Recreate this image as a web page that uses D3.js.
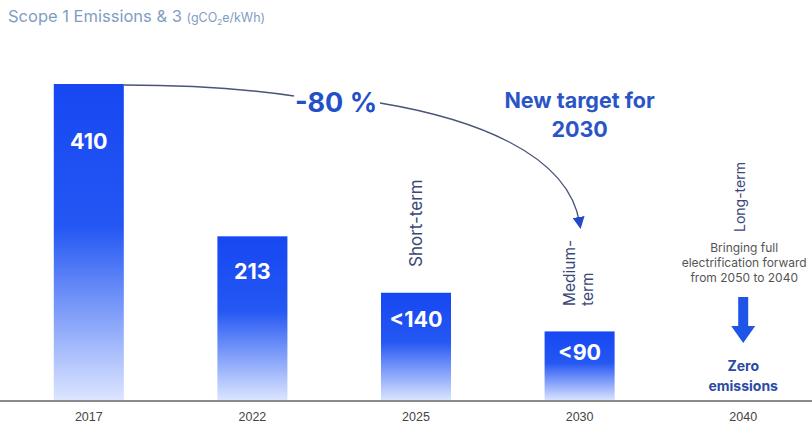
<!DOCTYPE html>
<html>
<head>
<meta charset="utf-8">
<script src="https://cdn.jsdelivr.net/npm/d3@7/dist/d3.min.js"></script>
<style>
  html, body { margin: 0; padding: 0; background: #fff; }
  svg { display: block; font-family: Inter, "Liberation Sans", Arial, sans-serif; }
</style>
</head>
<body>
<svg id="chart" width="812" height="426"></svg>
<script>
// Emission intensity, scope 1 & 3 (gCO2e/kWh)
const years = ["2017", "2022", "2025", "2030", "2040"];
const barYears = ["2017", "2022", "2025", "2030"];
const emissions = [410, 213, 140, 90];
const valueLabels = ["410", "213", "<140", "<90"];

const W = 812, H = 426;
const baseY = 401;
const svg = d3.select("#chart");

const x = d3.scaleBand().domain(years).range([7, 825])
  .paddingInner(0.572).paddingOuter(0.286);
const y = d3.scaleLinear().domain([0, 410]).range([baseY, 84]);

// vertical fade for the bars
const defs = svg.append("defs");
const grad = defs.append("linearGradient").attr("id", "barFade")
  .attr("x1", 0).attr("y1", 0).attr("x2", 0).attr("y2", 1);
grad.append("stop").attr("offset", "0").attr("stop-color", "#1747f2");
grad.append("stop").attr("offset", "0.45").attr("stop-color", "#2457f3");
grad.append("stop").attr("offset", "1").attr("stop-color", "#dde6ff");

defs.append("marker").attr("id", "tip")
  .attr("viewBox", "0 0 10 10").attr("refX", 5).attr("refY", 5)
  .attr("markerUnits", "userSpaceOnUse")
  .attr("markerWidth", 12).attr("markerHeight", 12)
  .attr("orient", "auto")
  .append("path").attr("d", "M0,0 L10,5 L0,10 Z").attr("fill", "#2249c8");

// title
const title = svg.append("text").attr("x", 8).attr("y", 22)
  .attr("fill", "#7f9dc4").attr("font-size", 16.5);
title.append("tspan").text("Scope 1 Emissions & 3 ");
const unit = title.append("tspan").attr("font-size", 12.5);
unit.append("tspan").text("(gCO");
unit.append("tspan").attr("font-size", 8).attr("dy", 3).text("2");
unit.append("tspan").attr("dy", -3).text("e/kWh)");

// bars
const data = barYears.map((yr, i) => ({ yr, v: emissions[i], label: valueLabels[i] }));
svg.append("g").selectAll("rect").data(data).join("rect")
  .attr("x", d => x(d.yr))
  .attr("y", d => y(d.v))
  .attr("width", x.bandwidth())
  .attr("height", d => baseY - y(d.v))
  .attr("fill", "url(#barFade)");

svg.append("g").selectAll("text").data(data).join("text")
  .attr("x", d => x(d.yr) + x.bandwidth() / 2)
  .attr("y", d => { const h = baseY - y(d.v); return y(d.v) + 10 + 0.15 * h; })
  .attr("dy", "0.36em")
  .attr("text-anchor", "middle")
  .attr("fill", "#fff").attr("font-weight", "bold").attr("font-size", 21.5)
  .text(d => d.label);

// baseline + year labels
const axis = svg.append("g").attr("transform", `translate(0,${baseY})`)
  .call(d3.axisBottom(x).tickSize(0).tickPadding(11));
axis.select(".domain").remove();
axis.append("line").attr("x1", 0).attr("x2", W).attr("y1", 0).attr("y2", 0)
  .attr("stroke", "#8a8a8a").attr("stroke-width", 2);
axis.selectAll(".tick text").attr("font-size", 12.5).attr("fill", "#444")
  .attr("font-family", "'Liberation Sans Narrow', 'Liberation Sans', Arial, sans-serif");

// reduction curve from 2017 towards the 2030 target
const x17 = x("2017") + x.bandwidth();
const x30 = x("2030") + x.bandwidth() / 2;
svg.append("path")
  .attr("d", `M${x17},${y(410) + 1} Q220,85 294,96`)
  .attr("fill", "none").attr("stroke", "#4a5478").attr("stroke-width", 1.4);
svg.append("path")
  .attr("d", `M380,103 C470,118 568,152 ${x30},223`)
  .attr("fill", "none").attr("stroke", "#4a5478").attr("stroke-width", 1.4)
  .attr("marker-end", "url(#tip)");

svg.append("text").attr("x", 336).attr("y", 102).attr("dy", "0.36em")
  .attr("text-anchor", "middle").attr("fill", "#2350c8")
  .attr("font-weight", "bold").attr("font-size", 27).text("-80 %");

const nt = svg.append("text").attr("text-anchor", "middle")
  .attr("fill", "#2a55c6").attr("font-weight", "bold").attr("font-size", 21.5);
nt.append("tspan").attr("x", x30).attr("y", 108).text("New target for");
nt.append("tspan").attr("x", x30).attr("y", 137).text("2030");

// horizon labels, reading bottom to top
const horizon = (cx, bottom, lines, size) => {
  const t = svg.append("text")
    .attr("transform", `translate(${cx},${bottom}) rotate(-90)`)
    .attr("text-anchor", "start").attr("fill", "#3a4778").attr("font-size", size);
  lines.forEach((l, i) => t.append("tspan").attr("x", 0)
    .attr("y", (i - (lines.length - 1) / 2) * (size + 2) + size * 0.36).text(l));
};
horizon(x("2025") + x.bandwidth() / 2, 267, ["Short-term"], 17);
horizon(x30 - 1, 306, ["Medium-", "term"], 15.5);
horizon(x("2040") + x.bandwidth() / 2 - 3, 232, ["Long-term"], 14);

// 2040 ambition
const c40 = x("2040") + x.bandwidth() / 2;
const note = svg.append("text").attr("text-anchor", "middle")
  .attr("fill", "#555").attr("font-size", 12);
["Bringing full", "electrification forward", "from 2050 to 2040"].forEach((l, i) =>
  note.append("tspan").attr("x", c40 + 1).attr("y", 252 + i * 15).text(l));

svg.append("path")
  .attr("d", `M${c40 - 5},297 H${c40 + 5} V326 H${c40 + 12} L${c40},343 L${c40 - 12},326 H${c40 - 5} Z`)
  .attr("fill", "#1f55e6");

const zero = svg.append("text").attr("text-anchor", "middle")
  .attr("fill", "#2b4aa6").attr("font-weight", "bold").attr("font-size", 14);
zero.append("tspan").attr("x", c40).attr("y", 371).text("Zero");
zero.append("tspan").attr("x", c40).attr("y", 391).text("emissions");
</script>
</body>
</html>
